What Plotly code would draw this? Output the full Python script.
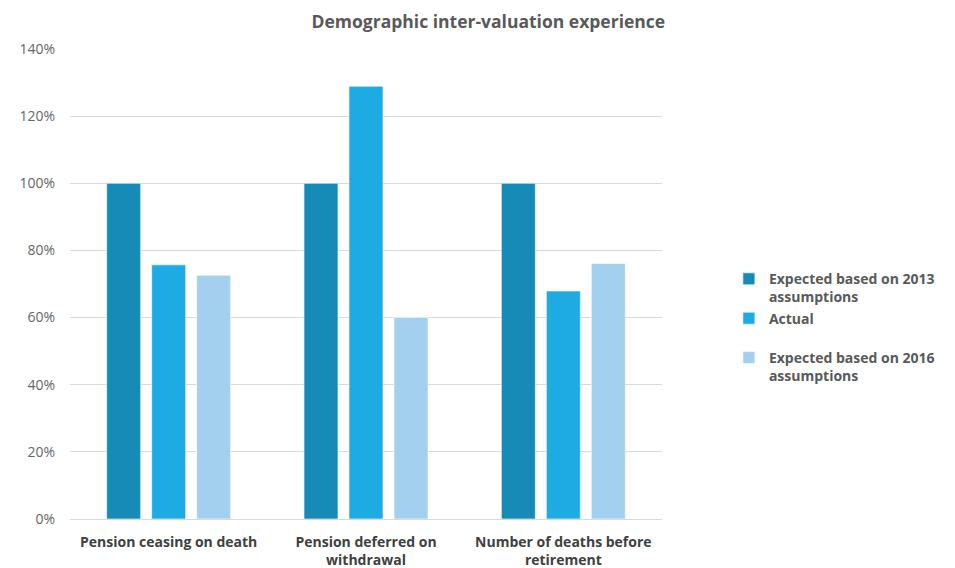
import plotly.graph_objects as go

categories = ["Pension ceasing on death", "Pension deferred on<br>withdrawal", "Number of deaths before<br>retirement"]
series_names = ["Expected based on 2013<br>assumptions", "Actual<br> ", "Expected based on 2016<br>assumptions"]
expected_2013 = [1.00, 1.00, 1.00]
actual = [0.757, 1.289, 0.679]
expected_2016 = [0.726, 0.600, 0.761]
colors = ["#178bb8", "#1eaae2", "#a2d0ee"]
tick_vals = [0, 0.2, 0.4, 0.6, 0.8, 1.0, 1.2, 1.4]

fig = go.Figure()
for name, vals, col in zip(series_names, [expected_2013, actual, expected_2016], colors):
    fig.add_trace(go.Bar(x=categories, y=vals, name=name,
                         marker=dict(color=col, line=dict(color="rgba(255,255,255,0.6)", width=1))))

fig.update_layout(
    width=955, height=568,
    paper_bgcolor="white", plot_bgcolor="white",
    font=dict(family="Open Sans, Noto Sans, sans-serif", color="#595959", size=14),
    title=dict(text="<b>Demographic inter-valuation experience</b>", x=0.503, xanchor="center",
               y=0.975, yanchor="middle", font=dict(size=17.5, color="#595959")),
    margin=dict(l=62, r=301, t=41, b=57, autoexpand=False),
    barmode="group", bargap=0.316, bargroupgap=0.244,
    legend=dict(x=1.113, xanchor="left", y=0.407, yanchor="middle", valign="top",
                font=dict(size=14, color="#595959", family="Open Sans, sans-serif", weight="bold"),
                itemwidth=30, tracegroupgap=0),
    showlegend=True,
)
fig.update_yaxes(range=[0, 1.4], tickvals=tick_vals, tickformat=".0%", gridcolor="#d9d9d9",
                 gridwidth=1, zeroline=False, showline=False, ticks="outside", ticklen=11,
                 tickcolor="white", tickfont=dict(size=14, color="#666666"), automargin=False)
fig.update_xaxes(showline=True, linecolor="#d9d9d9", linewidth=1, ticks="", automargin=False,
                 ticklabelstandoff=10,
                 tickfont=dict(size=14, color="#404040", weight="bold"))

fig.write_html("out.html")
